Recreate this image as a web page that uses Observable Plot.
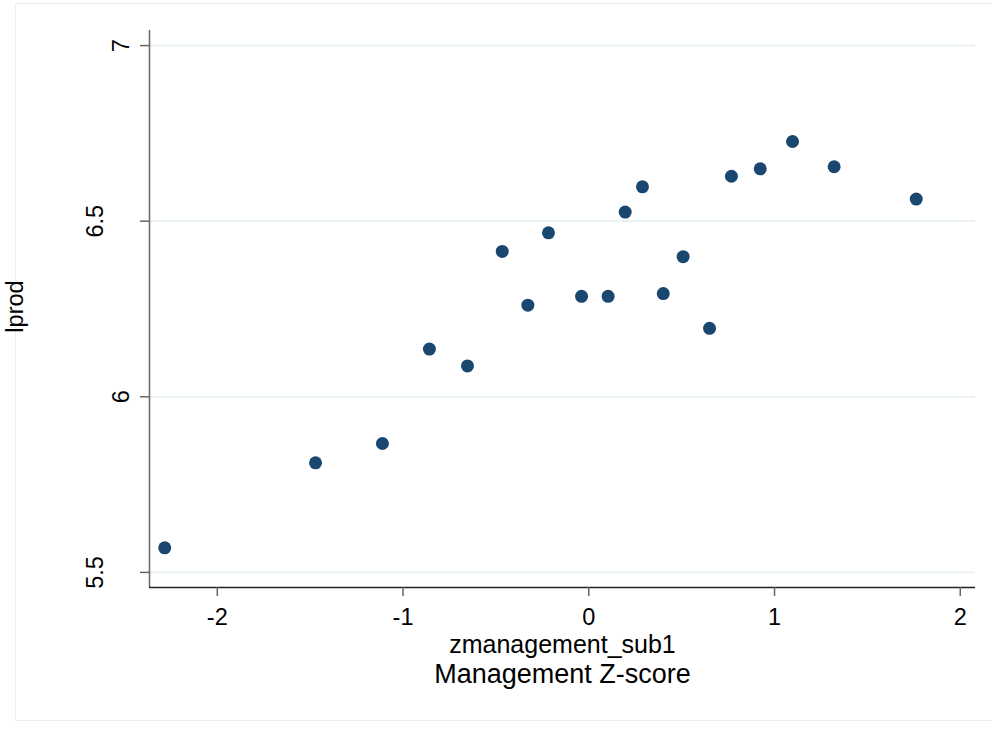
<!DOCTYPE html>
<html><head><meta charset="utf-8">
<script src="https://cdn.jsdelivr.net/npm/d3@7"></script>
<script src="https://cdn.jsdelivr.net/npm/@observablehq/plot@0.6"></script>
<style>
body{margin:0;background:#fff;}
#wrap{position:relative;width:992px;height:729px;overflow:hidden;background:#fff;}
#border{position:absolute;left:15px;top:3px;width:990px;height:718px;border:1.5px solid #e8f0f2;box-sizing:border-box;}
#chart{position:absolute;left:0;top:0;}
</style></head><body>
<div id="wrap"><div id="border"></div><div id="chart"></div></div>
<script>
// Data
const zmanagement = [-2.283, -1.471, -1.111, -0.858, -0.653, -0.466, -0.328, -0.217, -0.039, 0.104,
                     0.196, 0.289, 0.401, 0.508, 0.650, 0.768, 0.923, 1.097, 1.321, 1.763];
const lprod = [5.570, 5.812, 5.867, 6.136, 6.088, 6.414, 6.261, 6.467, 6.286, 6.286,
               6.526, 6.598, 6.294, 6.399, 6.195, 6.628, 6.649, 6.727, 6.655, 6.563];
const xTicks = [-2, -1, 0, 1, 2];
const yTicks = [5.5, 6, 6.5, 7];
const xDomain = [-2.365, 2.082];
const yDomain = [5.457, 7.043];
const xTitle = "zmanagement_sub1";
const xNote = "Management Z-score";
const yTitle = "lprod";

const points = zmanagement.map((x, i) => ({x, y: lprod[i]}));
const font = "Liberation Sans, Arial, Helvetica, sans-serif";

const chart = Plot.plot({
  width: 992,
  height: 729,
  marginLeft: 149,
  marginRight: 17,
  marginTop: 30,
  marginBottom: 142,
  style: {fontFamily: font, background: "transparent", color: "#000", overflow: "visible"},
  x: {domain: xDomain, axis: null},
  y: {domain: yDomain, axis: null},
  marks: [
    Plot.ruleY(yTicks, {y: d => d, stroke: "#e6f0f2", strokeWidth: 1.7}),
    Plot.ruleX([xDomain[0]], {x: d => d, stroke: "#666", strokeWidth: 1.5}),
    Plot.ruleY([yDomain[0]], {y: d => d, stroke: "#222", strokeWidth: 1.5}),
    Plot.axisX({ticks: xTicks, anchor: "bottom", tickSize: 9, tickPadding: 12, fontSize: 23.5,
                tickFormat: d => String(d),
                stroke: "#666", strokeWidth: 1.5, fill: "#000", label: null}),
    Plot.axisY({ticks: yTicks, anchor: "left", tickSize: 9, tickFormat: () => "",
                stroke: "#666", strokeWidth: 1.5, label: null}),
    Plot.text(yTicks.filter(Number.isInteger), {y: d => d, text: d => String(d), frameAnchor: "left",
                dx: -28, rotate: -90, textAnchor: "middle", lineAnchor: "middle", fontSize: 23.5, fill: "#000"}),
    Plot.text(yTicks.filter(d => !Number.isInteger(d)), {y: d => d, text: d => String(d), frameAnchor: "left",
                dx: -54.5, rotate: -90, textAnchor: "middle", lineAnchor: "middle", fontSize: 23.5, fill: "#000"}),
    Plot.dot(points, {x: "x", y: "y", r: 6.5, fill: "#1a476f", stroke: null}),
    Plot.text([xTitle], {text: d => d, frameAnchor: "bottom", dy: 57, lineAnchor: "middle",
                textAnchor: "middle", fontSize: 25, fill: "#000"}),
    Plot.text([xNote], {text: d => d, frameAnchor: "bottom", dy: 86.4, lineAnchor: "middle",
                textAnchor: "middle", fontSize: 27, fill: "#000"}),
    Plot.text([yTitle], {text: d => d, frameAnchor: "left", dx: -133.7, dy: -2.5, rotate: -90,
                lineAnchor: "middle", textAnchor: "middle", fontSize: 23.5, fill: "#000"})
  ]
});
document.getElementById("chart").appendChild(chart);
</script>
</body></html>
